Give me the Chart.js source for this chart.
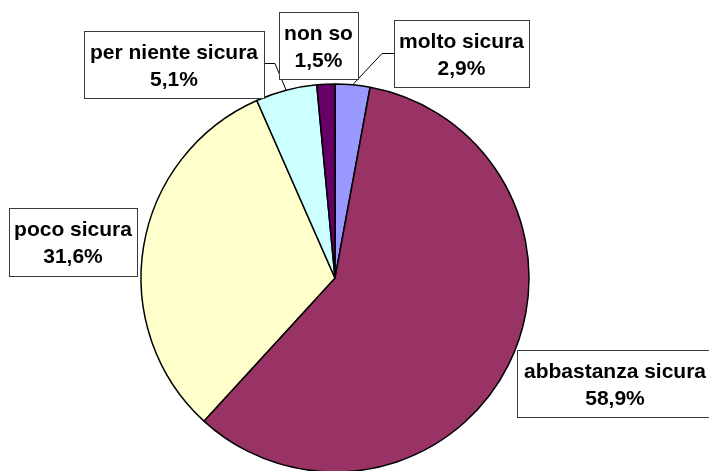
<!DOCTYPE html>
<html>
<head>
<meta charset="utf-8">
<script src="https://cdn.jsdelivr.net/npm/chart.js@4.4.0/dist/chart.umd.min.js"></script>
<style>
  html, body { margin: 0; padding: 0; background: #ffffff; }
  #wrap { position: relative; width: 709px; height: 471px; }
</style>
</head>
<body>
<div id="wrap"><canvas id="chart" width="709" height="471"></canvas></div>
<script>
// categories and values, clockwise from 12 o'clock
const categories = ['molto sicura', 'abbastanza sicura', 'poco sicura', 'per niente sicura', 'non so'];
const shares = [2.9, 58.9, 31.6, 5.1, 1.5];
const sliceColors = ['#9999FF', '#993366', '#FFFFCC', '#CCFFFF', '#660066'];

// label boxes (layout only): x, y, w, h, and optional leader side
const labelBoxes = [
  { x: 394, y: 20, w: 135, h: 67, leader: 'left', ly: 53 },
  { x: 517, y: 350, w: 196, h: 67 },
  { x: 9, y: 208, w: 128, h: 68 },
  { x: 84, y: 31, w: 180, h: 67, leader: 'right', ly: 63 },
  { x: 279, y: 12, w: 79, h: 67 }
];

const fmt = v => v.toFixed(1).replace('.', ',') + '%';

const boxLabels = {
  id: 'boxLabels',
  afterDatasetsDraw(chart) {
    const ctx = chart.ctx;
    const arcs = chart.getDatasetMeta(0).data;
    ctx.save();
    labelBoxes.forEach((b, i) => {
      const arc = arcs[i];
      if (b.leader) {
        const mid = (arc.startAngle + arc.endAngle) / 2;
        const ex = arc.x + arc.outerRadius * Math.cos(mid);
        const ey = arc.y + arc.outerRadius * Math.sin(mid);
        const sx = b.leader === 'left' ? b.x : b.x + b.w;
        const kx = b.leader === 'left' ? sx - 12 : sx + 11;
        ctx.beginPath();
        ctx.strokeStyle = '#000000';
        ctx.lineWidth = 1;
        ctx.moveTo(sx, b.ly + 0.5);
        ctx.lineTo(kx, b.ly + 0.5);
        ctx.lineTo(ex, ey);
        ctx.stroke();
      }
      ctx.fillStyle = '#ffffff';
      ctx.fillRect(b.x, b.y, b.w, b.h);
      ctx.strokeStyle = '#3a3a3a';
      ctx.lineWidth = 1;
      ctx.strokeRect(b.x + 0.5, b.y + 0.5, b.w, b.h);
      ctx.fillStyle = '#000000';
      ctx.font = 'bold 21px "Liberation Sans", Arial, sans-serif';
      ctx.textAlign = 'center';
      ctx.textBaseline = 'middle';
      const cx = b.x + b.w / 2;
      ctx.fillText(categories[i], cx, b.y + 22);
      ctx.fillText(fmt(shares[i]), cx, b.y + 49);
    });
    ctx.restore();
  }
};

new Chart(document.getElementById('chart'), {
  type: 'pie',
  data: {
    labels: categories,
    datasets: [{
      data: shares,
      backgroundColor: sliceColors,
      borderColor: '#000000',
      borderWidth: 1.5,
      radius: 194
    }]
  },
  options: {
    responsive: false,
    animation: false,
    layout: { padding: { left: 135, right: 174, top: 88, bottom: 3 } },
    plugins: {
      legend: { display: false },
      tooltip: { enabled: false },
      title: { display: false }
    }
  },
  plugins: [boxLabels]
});
</script>
</body>
</html>
